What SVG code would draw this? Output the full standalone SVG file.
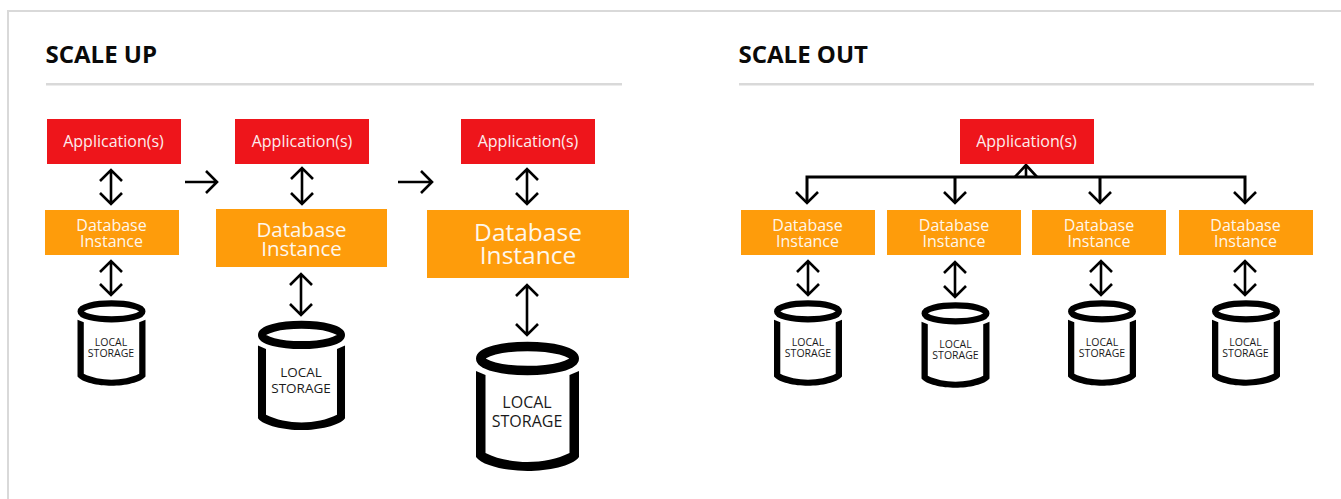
<svg xmlns="http://www.w3.org/2000/svg" xmlns:xlink="http://www.w3.org/1999/xlink" width="1341" height="499" viewBox="0 0 1341 499">
<style>
text{font-family:"Open Sans","Noto Sans","Liberation Sans",sans-serif;text-anchor:middle}
.h{font-size:24px;font-weight:700;fill:#0a0a0a;text-anchor:start}
.w{fill:#fff;opacity:.92}
.a{fill:#ee151b}.d{fill:#fe9c0b}
.s{fill:#1a1a1a;font-size:10.5px}
.c{fill:none;stroke:#000;stroke-width:2.6}
.b{fill:none;stroke:#000;stroke-width:3}
.r{fill:#d9d9d9}
</style>
<defs>
<g id="cyl">
<ellipse cx="0" cy="16.5" rx="46.75" ry="12" fill="none" stroke="#000" stroke-width="9.5"/>
<path d="M-51.5 29L-42 33V111C-30 117-15 120 0 120C15 120 30 117 42 111V33L51.5 29V115C45 124 20 129 0 129C-20 129-45 124-51.5 115Z" fill="#000"/>
</g>
</defs>
<rect width="1341" height="499" fill="#fff"/>
<g id="frame"><rect class="r" x="7" y="10" width="2" height="489"/><rect class="r" x="7" y="10" width="1334" height="2"/></g>
<g id="scale-up-title"><text class="h" x="45.500" y="63">SCALE UP</text><rect class="r" x="46" y="83" width="576" height="2.500"/></g>
<g id="scale-out-title"><text class="h" x="738.500" y="63">SCALE OUT</text><rect class="r" x="739" y="83" width="575" height="2.500"/></g>

<g id="connectors">
<path class="c" d="M111 170V204M100 181L111 170L122 181M100 193L111 204L122 193"/>
<path class="c" d="M111 261V295M100 272L111 261L122 272M100 284L111 295L122 284"/>
<path class="c" d="M302 168V204M291 179L302 168L313 179M291 193L302 204L313 193"/>
<path class="c" d="M301 274V315M290 285L301 274L312 285M290 304L301 315L312 304"/>
<path class="c" d="M527 169V204M516 180L527 169L538 180M516 193L527 204L538 193"/>
<path class="c" d="M527 285V335M516 296L527 285L538 296M516 324L527 335L538 324"/>
<path class="c" d="M185 182H216M206 171L217 182L206 193"/>
<path class="c" d="M398 182H431M421 171L432 182L421 193"/>
<path class="b" d="M807 202V177H1245V202M955 177V202M1100 177V202"/>
<path class="c" d="M1026 177V165M1015 177L1026 165L1037 177"/>
<path class="c" d="M796 192L807 203L818 192M944 192L955 203L966 192M1089 192L1100 203L1111 192M1234 192L1245 203L1256 192"/>
<path class="c" d="M808 261V295M797 272L808 261L819 272M797 284L808 295L819 284"/>
<path class="c" d="M955 262V297M944 273L955 262L966 273M944 286L955 297L966 286"/>
<path class="c" d="M1101 261V295M1090 272L1101 261L1112 272M1090 284L1101 295L1112 284"/>
<path class="c" d="M1245 261V295M1234 272L1245 261L1256 272M1234 284L1245 295L1256 284"/>
</g>

<g id="app-1"><rect class="a" x="47" y="119" width="134" height="45"/><text class="w" x="113.500" y="147" font-size="16">Application(s)</text></g>
<g id="db-1"><rect class="d" x="45" y="210" width="134" height="45"/><text class="w" x="111.500" y="231" font-size="16">Database</text><text class="w" x="111.500" y="247" font-size="16">Instance</text></g>
<g id="storage-1"><use xlink:href="#cyl" href="#cyl" transform="translate(111.500 300.500) scale(.66)"/><text class="s" x="111" y="346">LOCAL</text><text class="s" x="111" y="357">STORAGE</text></g>

<g id="app-2"><rect class="a" x="235" y="119" width="134" height="45"/><text class="w" x="302" y="147" font-size="16">Application(s)</text></g>
<g id="db-2"><rect class="d" x="216" y="209" width="171" height="58"/><text class="w" x="301.500" y="237" font-size="20.500">Database</text><text class="w" x="301.500" y="255.500" font-size="20.500">Instance</text></g>
<g id="storage-2"><use xlink:href="#cyl" href="#cyl" transform="translate(301.500 321) scale(.845)"/><text class="s" x="301" y="377" style="font-size:13.500px">LOCAL</text><text class="s" x="301" y="393" style="font-size:13.500px">STORAGE</text></g>

<g id="app-3"><rect class="a" x="461" y="119" width="134" height="45"/><text class="w" x="528" y="147" font-size="16">Application(s)</text></g>
<g id="db-3"><rect class="d" x="427" y="210" width="202" height="68"/><text class="w" x="528" y="241" font-size="24.500">Database</text><text class="w" x="528" y="263.500" font-size="24.500">Instance</text></g>
<g id="storage-3"><use xlink:href="#cyl" href="#cyl" transform="translate(527.500 342)"/><text class="s" x="527" y="408" style="font-size:16px">LOCAL</text><text class="s" x="527" y="427" style="font-size:16px">STORAGE</text></g>

<g id="app-4"><rect class="a" x="960" y="119" width="134" height="45"/><text class="w" x="1026.500" y="147" font-size="16">Application(s)</text></g>

<g id="db-4"><rect class="d" x="741" y="210" width="134" height="45"/><text class="w" x="807.500" y="231" font-size="16">Database</text><text class="w" x="807.500" y="247" font-size="16">Instance</text></g>
<g id="storage-4"><use xlink:href="#cyl" href="#cyl" transform="translate(808 300.500) scale(.66)"/><text class="s" x="808" y="346">LOCAL</text><text class="s" x="808" y="357">STORAGE</text></g>

<g id="db-5"><rect class="d" x="887" y="210" width="134" height="45"/><text class="w" x="954" y="231" font-size="16">Database</text><text class="w" x="954" y="247" font-size="16">Instance</text></g>
<g id="storage-5"><use xlink:href="#cyl" href="#cyl" transform="translate(955.500 302.500) scale(.66)"/><text class="s" x="955.500" y="348">LOCAL</text><text class="s" x="955.500" y="359">STORAGE</text></g>

<g id="db-6"><rect class="d" x="1032" y="210" width="134" height="45"/><text class="w" x="1099" y="231" font-size="16">Database</text><text class="w" x="1099" y="247" font-size="16">Instance</text></g>
<g id="storage-6"><use xlink:href="#cyl" href="#cyl" transform="translate(1102 300.500) scale(.66)"/><text class="s" x="1102" y="346">LOCAL</text><text class="s" x="1102" y="357">STORAGE</text></g>

<g id="db-7"><rect class="d" x="1179" y="210" width="134" height="45"/><text class="w" x="1245.500" y="231" font-size="16">Database</text><text class="w" x="1245.500" y="247" font-size="16">Instance</text></g>
<g id="storage-7"><use xlink:href="#cyl" href="#cyl" transform="translate(1246 300.500) scale(.66)"/><text class="s" x="1245.500" y="346">LOCAL</text><text class="s" x="1245.500" y="357">STORAGE</text></g>
</svg>
